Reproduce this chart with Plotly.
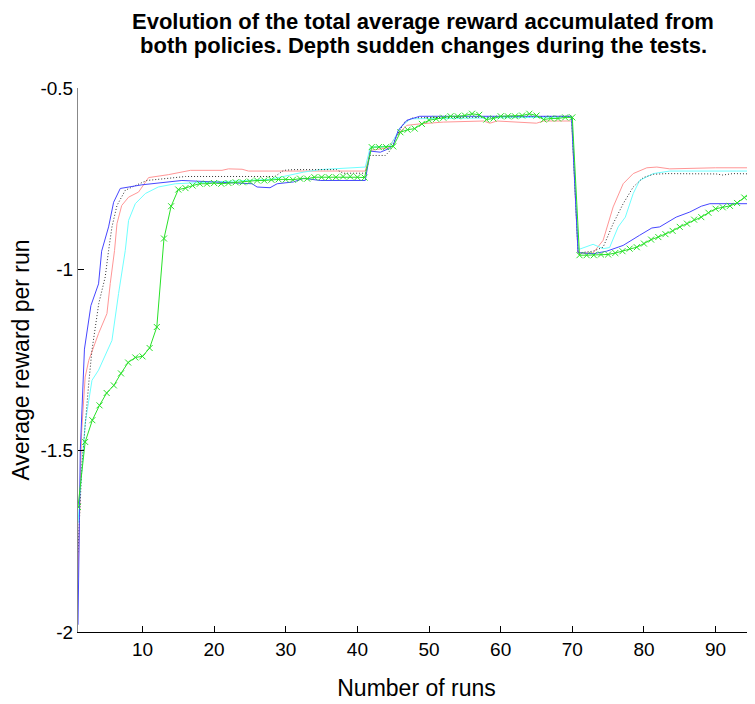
import plotly.graph_objects as go

# --- data ---
BLUE_X = [1, 1.32, 1.9, 2.8, 3.87, 4.3, 5.27, 5.97, 6.9, 8.0, 9.9, 15.5, 25.3, 26, 27.8, 28.8, 31.1, 32.5, 34.8, 41.1,
          41.8, 43.2, 44.3, 45, 45.7, 46.9, 48.7, 58.5, 69.9, 70.8, 72.9, 74.8, 77.1, 79.4, 81.1, 82.2, 84.5, 86.4,
          88.0, 89.2, 95.5]
BLUE_Y = [-1.98, -1.5, -1.22, -1.10, -1.04, -0.95, -0.883, -0.815, -0.777, -0.773, -0.767, -0.755, -0.764, -0.773,
          -0.775, -0.764, -0.759, -0.749, -0.755, -0.755, -0.674, -0.677, -0.668, -0.658, -0.617, -0.589, -0.578,
          -0.578, -0.578, -0.954, -0.957, -0.95, -0.934, -0.906, -0.886, -0.883, -0.856, -0.842, -0.826, -0.819,
          -0.819]

BLACK_X = [1, 1.56, 2.5, 2.95, 3.9, 4.8, 5.27, 5.74, 6.44, 7.6, 9.0, 10.6, 14.1, 16, 28.5, 29.7, 31.1, 37.1, 38.0,
           41.1, 41.8, 43.9, 44.6, 45.5, 46.6, 47.8, 69.9, 70.8, 72.9, 74.3, 75.7, 77.1, 78.5, 79.9, 81.3, 83.2,
           90.1, 91, 92.4, 95.5]
BLACK_Y = [-1.78, -1.534, -1.314, -1.223, -1.094, -1.021, -0.948, -0.883, -0.824, -0.782, -0.769, -0.755, -0.748,
           -0.744, -0.744, -0.727, -0.725, -0.725, -0.735, -0.735, -0.686, -0.686, -0.672, -0.631, -0.594, -0.582,
           -0.578, -0.955, -0.95, -0.939, -0.874, -0.819, -0.773, -0.747, -0.738, -0.736, -0.737, -0.74, -0.736,
           -0.737]

RED_X = [1, 1.5, 2.0, 2.5, 3.87, 5.04, 5.5, 6.1, 6.44, 7.1, 8.06, 9.45, 10.85, 13.6, 16.7, 21.1, 22, 23.9, 24.8,
         41.1, 41.8, 44.3, 45.5, 46.9, 48.7, 52, 57.6, 58.5, 59.5, 65, 66, 69.9, 70.8, 72.9, 74.3, 75.7, 77.1, 78.5,
         80.4, 81.8, 83.6, 90, 95.5]
RED_Y = [-1.85, -1.45, -1.297, -1.251, -1.177, -1.122, -1.039, -0.948, -0.874, -0.824, -0.801, -0.787, -0.747,
         -0.739, -0.727, -0.727, -0.723, -0.724, -0.729, -0.729, -0.672, -0.665, -0.63, -0.603, -0.599, -0.594,
         -0.591, -0.597, -0.591, -0.597, -0.591, -0.591, -0.955, -0.955, -0.92, -0.828, -0.764, -0.736, -0.72,
         -0.718, -0.723, -0.72, -0.72]

CYAN_X = [1, 2.0, 2.95, 3.87, 5.74, 6.2, 6.66, 7.6, 8.06, 9.0, 10.4, 12.2, 14.6, 27.8, 32.5, 34.8, 41.1, 41.8, 44.6,
          46, 47.4, 69.9, 70.8, 71.2, 72.9, 74.3, 75.2, 76.4, 77.4, 78.5, 79.4, 81.3, 83.6, 92.9, 95.5]
CYAN_Y = [-1.70, -1.425, -1.306, -1.278, -1.196, -1.131, -1.067, -0.948, -0.865, -0.819, -0.791, -0.773, -0.764,
          -0.752, -0.732, -0.725, -0.718, -0.663, -0.66, -0.608, -0.585, -0.58, -0.945, -0.943, -0.931, -0.943,
          -0.94, -0.883, -0.856, -0.791, -0.755, -0.736, -0.729, -0.729, -0.729]

GREEN_X = list(range(1, 96))
GREEN_Y = [-1.655, -1.476, -1.416, -1.375, -1.341, -1.32, -1.287, -1.257, -1.243, -1.240,
           -1.217, -1.159, -0.915, -0.826, -0.78, -0.776, -0.769, -0.764, -0.764, -0.762,
           -0.764, -0.762, -0.760, -0.760, -0.758, -0.755, -0.755, -0.753, -0.752, -0.752,
           -0.753, -0.750, -0.750, -0.746, -0.746, -0.746, -0.746, -0.744, -0.744, -0.746,
           -0.747, -0.663, -0.663, -0.663, -0.661, -0.622, -0.615, -0.612, -0.599, -0.589,
           -0.585, -0.582, -0.578, -0.578, -0.576, -0.571, -0.574, -0.587, -0.584, -0.578,
           -0.578, -0.578, -0.576, -0.571, -0.576, -0.587, -0.584, -0.584, -0.581, -0.581,
           -0.961, -0.961, -0.961, -0.959, -0.959, -0.955, -0.950, -0.943, -0.939, -0.929,
           -0.918, -0.911, -0.903, -0.894, -0.883, -0.874, -0.863, -0.856, -0.844, -0.833,
           -0.829, -0.825, -0.817, -0.802, -0.791]

X_TICKS = [10, 20, 30, 40, 50, 60, 70, 80, 90]
Y_TICKS = [-2, -1.5, -1, -0.5]
Y_TICK_TEXT = ["-2", "-1.5", "-1", "-0.5"]

TITLE_LINES = ["Evolution of the total average reward accumulated from",
               "both policies. Depth sudden changes during the tests."]

FONT = "Liberation Sans, Arial, sans-serif"

fig = go.Figure()

fig.add_trace(go.Scatter(x=RED_X, y=RED_Y, mode="lines",
                         line=dict(color="rgb(255,150,150)", width=1)))
fig.add_trace(go.Scatter(x=CYAN_X, y=CYAN_Y, mode="lines",
                         line=dict(color="rgb(110,255,255)", width=1)))
fig.add_trace(go.Scatter(x=BLACK_X, y=BLACK_Y, mode="lines",
                         line=dict(color="rgb(50,50,50)", width=1, dash="1px,2px")))
fig.add_trace(go.Scatter(x=BLUE_X, y=BLUE_Y, mode="lines",
                         line=dict(color="rgb(70,70,255)", width=1)))
fig.add_trace(go.Scatter(x=GREEN_X, y=GREEN_Y, mode="lines+markers",
                         line=dict(color="rgb(40,225,40)", width=1),
                         marker=dict(symbol="x-thin", size=6,
                                     line=dict(color="rgb(40,225,40)", width=1))))

# title as two annotations (tight line spacing like the original)
annotations = []
for i, line in enumerate(TITLE_LINES):
    annotations.append(dict(
        text=f"<b>{line}</b>",
        xref="paper", yref="paper",
        x=0.51, y=1.123 - i * 0.045,
        xanchor="center", yanchor="middle",
        showarrow=False,
        font=dict(family=FONT, size=22, color="black"),
    ))

# the page body adds an 8px offset, so the figure is 8px smaller and margins shifted
fig.update_layout(
    width=747,
    height=696,
    showlegend=False,
    template="none",
    paper_bgcolor="white",
    plot_bgcolor="white",
    margin=dict(l=70, r=0, t=80, b=72),
    annotations=annotations,
    xaxis=dict(
        range=[1, 95.5],
        tickvals=X_TICKS,
        ticks="inside",
        ticklen=6,
        tickcolor="black",
        showline=True,
        linecolor="black",
        linewidth=1,
        showgrid=False,
        zeroline=False,
        tickfont=dict(family=FONT, size=19, color="black"),
        title=dict(text="Number of runs", font=dict(family=FONT, size=23, color="black"), standoff=21),
    ),
    yaxis=dict(
        range=[-2, -0.5],
        tickvals=Y_TICKS,
        ticktext=Y_TICK_TEXT,
        ticks="inside",
        ticklen=6,
        tickcolor="black",
        showline=True,
        linecolor="#888",
        linewidth=1,
        showgrid=False,
        zeroline=False,
        tickfont=dict(family=FONT, size=19, color="black"),
        title=dict(text="Average reward per run", font=dict(family=FONT, size=23, color="black"), standoff=6),
    ),
)

fig.write_html("out.html")
